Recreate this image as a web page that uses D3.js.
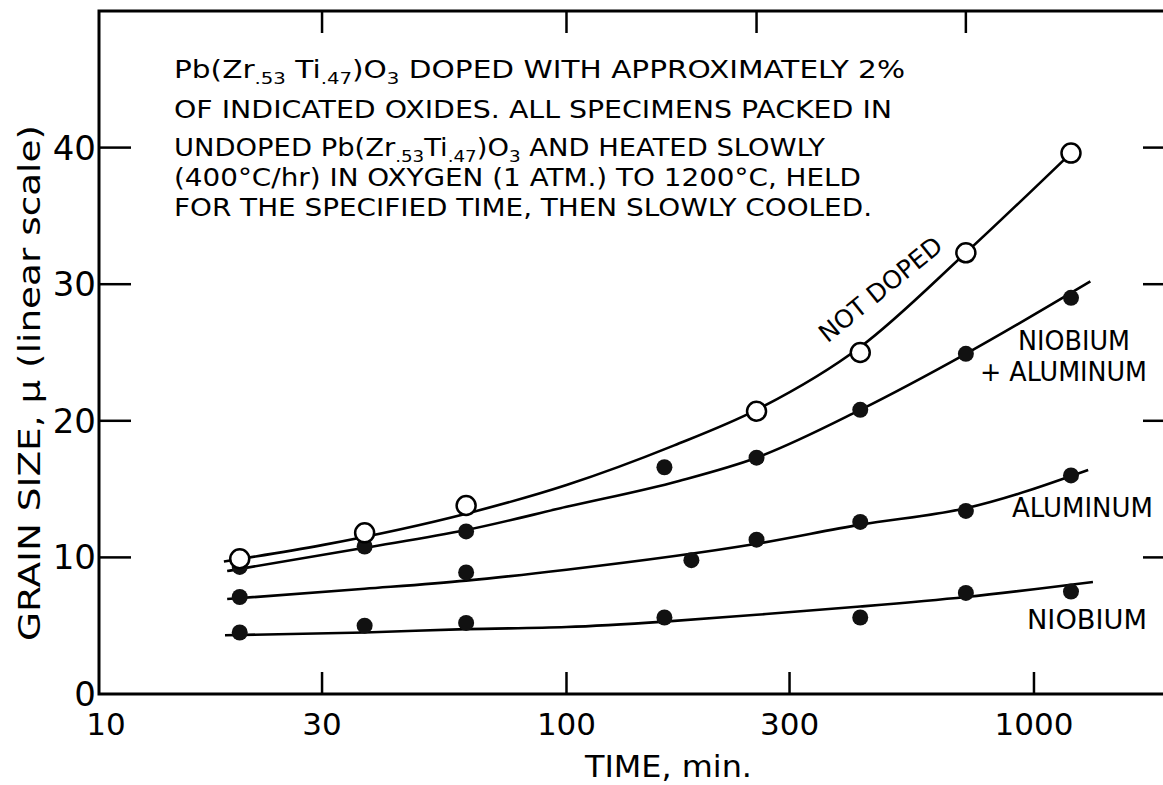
<!DOCTYPE html>
<html lang="en">

<head>
    <meta charset="UTF-8" />
    <title>Grain size vs time</title>
    <script src="https://cdn.jsdelivr.net/npm/d3@7"></script>
    <style>
        body { margin: 0; background: #fff; }
        svg { display: block; }
    </style>
</head>

<body>
</body>

<script>
    let w = 1163;
    let h = 785;

    // axis ticks
    let xTicks = [10, 30, 100, 300, 1000];
    let xTopTicks = [30, 100, 255, 715];
    let yTicks = [0, 10, 20, 30, 40];

    // measured points (time in min, grain size in microns)
    let notDopedT = [20, 37, 61, 255, 425, 715, 1200];
    let notDopedV = [9.9, 11.8, 13.8, 20.7, 25.0, 32.3, 39.6];
    let nbAlT = [20, 37, 61, 162, 255, 425, 715, 1200];
    let nbAlV = [9.3, 10.8, 11.9, 16.6, 17.3, 20.8, 24.9, 29.0];
    let alT = [20, 61, 185, 255, 425, 715, 1200];
    let alV = [7.1, 8.9, 9.8, 11.3, 12.6, 13.4, 16.0];
    let nbT = [20, 37, 61, 162, 425, 715, 1200];
    let nbV = [4.5, 5.0, 5.2, 5.6, 5.6, 7.4, 7.5];

    // hand drawn fitted curves
    let notDopedCurveT = [18.5, 30, 61, 100, 170, 255, 425, 715, 1200];
    let notDopedCurveV = [9.7, 10.9, 13.2, 15.3, 18.2, 20.8, 25.4, 32.3, 39.6];
    let nbAlCurveT = [18.8, 37, 61, 100, 174, 255, 425, 715, 1320];
    let nbAlCurveV = [9.0, 10.7, 12.0, 13.7, 15.6, 17.3, 20.8, 24.9, 30.2];
    let alCurveT = [18.8, 37, 61, 100, 255, 425, 715, 1306];
    let alCurveV = [6.95, 7.7, 8.3, 9.1, 11.0, 12.4, 13.6, 16.4];
    let nbCurveT = [18.6, 37, 61, 100, 162, 255, 425, 715, 1337];
    let nbCurveV = [4.3, 4.5, 4.75, 4.9, 5.3, 5.8, 6.4, 7.1, 8.2];

    let plotL = 99, plotT = 11, plotR = 1163, plotB = 694;
    let font = "'DejaVu Sans', sans-serif";

    let svg = d3.select("body").append("svg")
        .attr("width", w)
        .attr("height", h)
        .style("background", "#fff");

    let x = d3.scaleLog().domain([10, 1888]).range([plotL, plotR]);
    let y = d3.scaleLinear().domain([0, 50]).range([plotB, plotT]);

    // frame: left, top and bottom lines
    svg.append("path")
        .attr("d", `M${plotR},${plotT}H${plotL}V${plotB}H${plotR}`)
        .attr("fill", "none")
        .attr("stroke", "#000")
        .attr("stroke-width", 3);

    // ticks on the left and right
    let yt = yTicks.filter(d => d > 0);
    svg.selectAll(".ytl").data(yt).enter().append("line")
        .attr("x1", plotL).attr("x2", plotL + 32)
        .attr("y1", d => y(d)).attr("y2", d => y(d))
        .attr("stroke", "#000").attr("stroke-width", 2.5);
    svg.selectAll(".ytr").data(yt).enter().append("line")
        .attr("x1", plotR - 20).attr("x2", plotR)
        .attr("y1", d => y(d)).attr("y2", d => y(d))
        .attr("stroke", "#000").attr("stroke-width", 2.5);

    // ticks on bottom and top
    svg.selectAll(".xtb").data(xTicks.filter(d => d > 10)).enter().append("line")
        .attr("x1", d => x(d)).attr("x2", d => x(d))
        .attr("y1", plotB).attr("y2", plotB - 22)
        .attr("stroke", "#000").attr("stroke-width", 2.5);
    svg.selectAll(".xtt").data(xTopTicks).enter().append("line")
        .attr("x1", d => x(d)).attr("x2", d => x(d))
        .attr("y1", plotT).attr("y2", plotT + 22)
        .attr("stroke", "#000").attr("stroke-width", 2.5);

    // tick labels
    svg.selectAll(".ylab").data(yTicks).enter().append("text")
        .attr("x", plotL - 3)
        .attr("y", d => y(d) + 12)
        .attr("text-anchor", "end")
        .attr("font-family", font)
        .attr("font-size", 34)
        .text(d => d);
    svg.selectAll(".xlab").data(xTicks).enter().append("text")
        .attr("x", d => x(d) + (d == 10 ? 7 : 0))
        .attr("y", 735)
        .attr("text-anchor", "middle")
        .attr("font-family", font)
        .attr("font-size", 31)
        .text(d => d);

    // axis titles
    svg.append("text")
        .attr("x", 585).attr("y", 777)
        .attr("font-family", font)
        .attr("font-size", 30)
        .attr("textLength", 167)
        .attr("lengthAdjust", "spacingAndGlyphs")
        .text("TIME, min.");
    svg.append("text")
        .attr("transform", "translate(40,641) rotate(-90)")
        .attr("font-family", font)
        .attr("font-size", 30)
        .attr("textLength", 516)
        .attr("lengthAdjust", "spacingAndGlyphs")
        .text("GRAIN SIZE, \u03bc (linear scale)");

    // curves
    let line = d3.line()
        .x(d => x(d[0]))
        .y(d => y(d[1]))
        .curve(d3.curveMonotoneX);

    let curves = [
        d3.zip(notDopedCurveT, notDopedCurveV),
        d3.zip(nbAlCurveT, nbAlCurveV),
        d3.zip(alCurveT, alCurveV),
        d3.zip(nbCurveT, nbCurveV)
    ];
    svg.selectAll(".curve").data(curves).enter().append("path")
        .attr("d", line)
        .attr("fill", "none")
        .attr("stroke", "#000")
        .attr("stroke-width", 2.6);

    // filled points
    let filled = d3.zip(nbAlT, nbAlV)
        .concat(d3.zip(alT, alV))
        .concat(d3.zip(nbT, nbV));
    svg.selectAll(".dot").data(filled).enter().append("circle")
        .attr("cx", d => x(d[0]))
        .attr("cy", d => y(d[1]))
        .attr("r", 8)
        .attr("fill", "#111");

    // open points
    svg.selectAll(".open").data(d3.zip(notDopedT, notDopedV)).enter().append("circle")
        .attr("cx", d => x(d[0]))
        .attr("cy", d => y(d[1]))
        .attr("r", 9.5)
        .attr("fill", "#fff")
        .attr("stroke", "#000")
        .attr("stroke-width", 2.5);

    // series labels
    let labels = [
        { t: "NIOBIUM", x: 1018, y: 350, len: 112 },
        { t: "+ ALUMINUM", x: 980, y: 381, len: 167 },
        { t: "ALUMINUM", x: 1012, y: 517, len: 141 },
        { t: "NIOBIUM", x: 1027, y: 629, len: 120 }
    ];
    svg.selectAll(".slab").data(labels).enter().append("text")
        .attr("x", d => d.x).attr("y", d => d.y)
        .attr("font-family", font)
        .attr("font-size", 26)
        .attr("textLength", d => d.len)
        .attr("lengthAdjust", "spacingAndGlyphs")
        .text(d => d.t);
    svg.append("text")
        .attr("transform", "translate(886,296) rotate(-39)")
        .attr("text-anchor", "middle")
        .attr("font-family", font)
        .attr("font-size", 25)
        .text("NOT DOPED");

    // note block, segments flagged 1 are subscripts
    let note = [
        [["Pb(Zr", 0], [".53", 1], [" Ti", 0], [".47", 1], [")O", 0], ["3", 1], [" DOPED WITH APPROXIMATELY 2%", 0]],
        [["OF INDICATED OXIDES. ALL SPECIMENS PACKED IN", 0]],
        [["UNDOPED Pb(Zr", 0], [".53", 1], ["Ti", 0], [".47", 1], [")O", 0], ["3", 1], [" AND HEATED SLOWLY", 0]],
        [["(400\u00b0C/hr) IN OXYGEN (1 ATM.) TO 1200\u00b0C, HELD", 0]],
        [["FOR THE SPECIFIED TIME, THEN SLOWLY COOLED.", 0]]
    ];
    let noteY = [78, 118, 156, 186, 216];
    let noteW = [731, 718, 651, 687, 698];

    note.forEach((segs, i) => {
        let t = svg.append("text")
            .attr("x", 174).attr("y", noteY[i])
            .attr("font-family", font)
            .attr("font-size", 24)
            .attr("textLength", noteW[i])
            .attr("lengthAdjust", "spacingAndGlyphs");
        segs.forEach(s => {
            t.append("tspan")
                .attr("font-size", s[1] ? 16 : 24)
                .attr("baseline-shift", s[1] ? "-6" : "0")
                .text(s[0]);
        });
    });
</script>

</html>
